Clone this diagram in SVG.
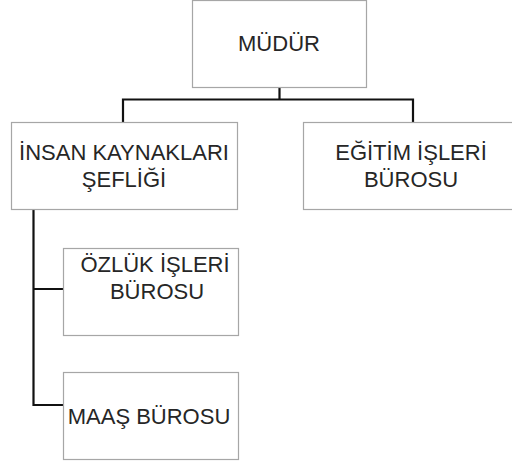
<svg xmlns="http://www.w3.org/2000/svg" width="512" height="463" viewBox="0 0 512 463">
<style>
.box{fill:#fff;stroke:#a6a6a6;stroke-width:1.2}
.lbl{font-family:"Liberation Sans",Arial,sans-serif;font-size:22px;fill:#262626;text-anchor:middle}
.con{fill:none;stroke:#111;stroke-width:2.2}
</style>
<rect width="512" height="463" fill="#fff"/>
<g id="connectors">
<path class="con" d="M279.5,87 V99.5 M123,123 V99.5 H413 V123"/>
<path class="con" d="M33.5,209 V405 H63 M33.5,289 H63"/>
</g>
<g id="mudur">
<rect class="box" x="192.5" y="0.5" width="174" height="87"/>
<text class="lbl" x="279" y="51">MÜDÜR</text>
</g>
<g id="insan">
<rect class="box" x="11.5" y="122.5" width="226" height="87"/>
<text class="lbl" x="124" y="160">İNSAN KAYNAKLARI</text>
<text class="lbl" x="124" y="187">ŞEFLİĞİ</text>
</g>
<g id="egitim">
<rect class="box" x="303.5" y="122.5" width="226" height="87"/>
<text class="lbl" x="411" y="160">EĞİTİM İŞLERİ</text>
<text class="lbl" x="411" y="187">BÜROSU</text>
</g>
<g id="ozluk">
<rect class="box" x="63.5" y="248.5" width="175" height="87"/>
<text class="lbl" x="155" y="272">ÖZLÜK İŞLERİ</text>
<text class="lbl" x="157" y="299">BÜROSU</text>
</g>
<g id="maas">
<rect class="box" x="63.5" y="372.5" width="175" height="87"/>
<text class="lbl" x="149" y="424">MAAŞ BÜROSU</text>
</g>
</svg>
